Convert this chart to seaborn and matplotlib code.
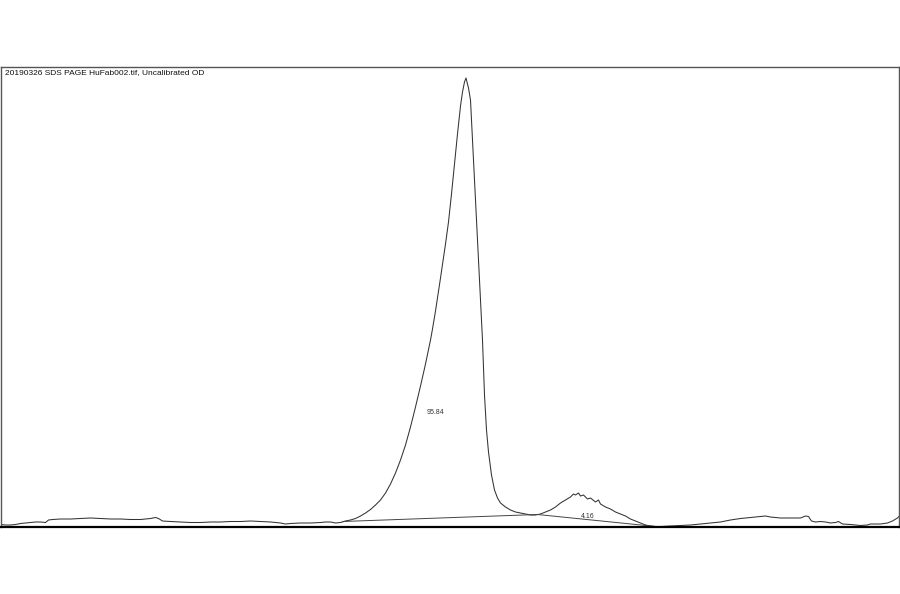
import matplotlib
matplotlib.use("Agg")
import matplotlib.pyplot as plt
import seaborn as sns
import pandas as pd

# Densitometry profile (lane position vs optical density, arbitrary units)
position = [0, 5, 10, 15, 20, 25, 30, 35, 40, 45, 48, 52, 60, 70, 80, 90, 100, 110, 120, 130,
            140, 150, 155, 158, 162, 170, 180, 190, 200, 210, 220, 230, 240, 250, 260, 270,
            280, 285, 290, 300, 310, 320, 325, 330, 335, 340,
            345, 350, 355, 360, 365, 370, 375, 380, 385, 390, 395, 400, 405, 410, 415, 420,
            425, 430, 432, 435, 440, 445, 448, 451, 454, 457, 460, 462, 464, 465.5, 466,
            468, 470, 472, 474, 476, 478, 480, 482, 484, 486, 488, 491, 494, 497, 500, 505,
            510, 515, 520, 525, 530, 535, 540, 545, 550, 555, 560, 565, 570, 573, 575, 578,
            580, 583, 587, 590, 595, 598, 600, 605, 610, 615, 620, 625, 630, 635, 640, 645,
            650, 655, 660, 670, 680, 690, 700, 710, 720, 730, 740, 750, 760, 765, 770, 780,
            790, 800, 805, 808, 811, 815, 820, 825, 830, 835, 838, 842, 850, 860, 867, 870,
            880, 887, 892, 897, 899]
od = [2.5, 2.0, 2.0, 2.5, 3.5, 4.0, 4.5, 5.0, 5.0, 4.5, 7.0, 7.5, 8.0, 8.0, 8.5, 9.0, 8.5, 8.0,
      8.0, 7.5, 7.5, 8.5, 9.5, 8.5, 6.0, 5.5, 5.0, 4.5, 4.5, 5.0, 5.0, 5.5, 5.5, 6.0, 5.5, 5.0,
      4.0, 3.0, 3.5, 4.0, 4.0, 4.5, 5.0, 5.0, 4.0, 4.5,
      6.0, 7.0, 8.5, 11, 14, 17.5, 22, 27, 34, 43, 54, 67, 82, 100, 120, 141,
      163, 187, 198, 216, 249, 283, 305, 333, 363, 393, 421, 435, 445, 449, 447,
      439, 427, 387, 347, 307, 265, 227, 187, 132, 97, 75, 52, 37, 29, 24, 20,
      17, 15, 14, 13, 12, 12, 13, 15, 17, 20, 24, 27, 30, 33, 32, 34,
      31, 32, 28, 29, 25, 27, 23, 20, 18, 15, 13, 11, 8, 6, 4, 2,
      1, 0.5, 0.5, 1, 1.5, 2, 3, 4, 5, 7, 8.5, 9.5, 10.5, 11, 10, 9,
      9, 9, 11, 10.5, 6, 5, 5.5, 5, 4, 4.5, 5.5, 3, 2.5, 1.5, 2, 3,
      3, 4, 6, 9, 11]

# Drop-line baselines used for peak integration
baseline_pos = [342, 537, 655]
baseline_od = [5.5, 12.5, 0.5]

peak_labels = ["95.84", "4.16"]
label_pos = [435, 587]
label_od = [115, 11]

title = "20190326 SDS PAGE HuFab002.tif, Uncalibrated OD"

sns.set_style("white")
plt.rcParams["font.family"] = ["Liberation Sans", "DejaVu Sans"]

fig = plt.figure(figsize=(9, 5.94), dpi=100)
ax = fig.add_axes([0.0006, 1 - 527 / 594, 0.9988, 460 / 594])

trace = pd.DataFrame({"position": position, "od": od})
base = pd.DataFrame({"position": baseline_pos, "od": baseline_od})

sns.lineplot(data=trace, x="position", y="od", ax=ax, color="#333333",
             linewidth=0.75, estimator=None, sort=False)
sns.lineplot(data=base, x="position", y="od", ax=ax, color="#444444",
             linewidth=0.7, estimator=None, sort=False)

for lab, px, py in zip(peak_labels, label_pos, label_od):
    ax.text(px, py, lab, fontsize=5, ha="center", va="center", color="#333333")

ax.text(4 / 899, 0.996, title, transform=ax.transAxes, fontsize=6,
        ha="left", va="top", color="#111111")

ax.set_xlim(0, 899)
ax.set_ylim(0, 460)
ax.set_xticks([])
ax.set_yticks([])
ax.set_xlabel("")
ax.set_ylabel("")

for side in ["top", "right", "left"]:
    ax.spines[side].set_visible(True)
    ax.spines[side].set_color("#555555")
    ax.spines[side].set_linewidth(1.0)
ax.spines["bottom"].set_color("#000000")
ax.spines["bottom"].set_linewidth(1.6)

fig.savefig("out.png", dpi=100)
